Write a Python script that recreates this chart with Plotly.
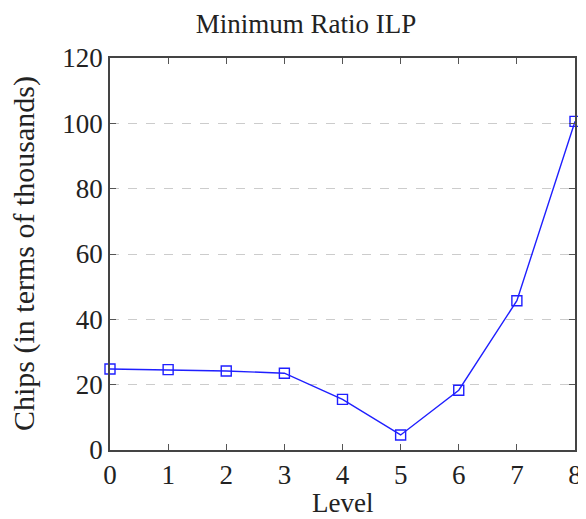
import plotly.graph_objects as go

levels = [0, 1, 2, 3, 4, 5, 6, 7, 8]
chips = [24.8, 24.6, 24.2, 23.5, 15.5, 4.6, 18.3, 45.7, 100.6]
y_ticks = [0, 20, 40, 60, 80, 100, 120]

font_family = "Liberation Serif"
OFF = 8  # default page body margin
W, H = 586 - OFF, 519 - OFF
L, R, T, B = 110 - OFF, 11, 58 - OFF, 69

fig = go.Figure()
fig.add_trace(go.Scatter(
    x=levels, y=chips, mode="lines+markers",
    line=dict(color="#1f1fff", width=1.4),
    marker=dict(symbol="square-open", size=10, color="#1f1fff", line=dict(width=1.4)),
    showlegend=False, cliponaxis=False,
))

pw = W - L - R
ph = H - T - B

fig.update_layout(
    width=W, height=H,
    margin=dict(l=L, r=R, t=T, b=B, autoexpand=False),
    paper_bgcolor="white", plot_bgcolor="white",
    font=dict(family=font_family, color="#222222", size=24),
    title=dict(text="Minimum Ratio ILP", xref="container", x=(306 - OFF) / W, xanchor="center",
               yref="container", y=1 - (24 - OFF) / H, yanchor="middle",
               font=dict(size=27, family=font_family, color="#222222")),
    annotations=[
        dict(text="Level", xref="paper", yref="paper",
             x=(342 - 110) / pw, y=-(503 - 450) / ph, xanchor="center", yanchor="middle",
             showarrow=False, font=dict(size=27, family=font_family, color="#222222")),
        dict(text="Chips (in terms of thousands)", xref="paper", yref="paper",
             x=-(110 - 24) / pw, y=(450 - 254) / ph, xanchor="center", yanchor="middle",
             textangle=-90, showarrow=False,
             font=dict(size=30, family=font_family, color="#222222")),
    ],
)
fig.update_xaxes(
    range=[0, 8], tickvals=levels, ticks="inside", ticklen=6, tickcolor="#555555",
    showline=True, linecolor="#444444", linewidth=1.5, mirror="allticks",
    showgrid=False, zeroline=False, automargin=False,
    tickfont=dict(size=27, family=font_family),
)
fig.update_yaxes(
    range=[0, 120], tickvals=y_ticks, ticks="inside", ticklen=6, tickcolor="#555555",
    showline=True, linecolor="#444444", linewidth=1.5, mirror="allticks",
    showgrid=True, gridcolor="#cccccc", griddash="dash", gridwidth=1.2, zeroline=False,
    automargin=False,
    tickfont=dict(size=27, family=font_family),
)

fig.write_html("out.html")
